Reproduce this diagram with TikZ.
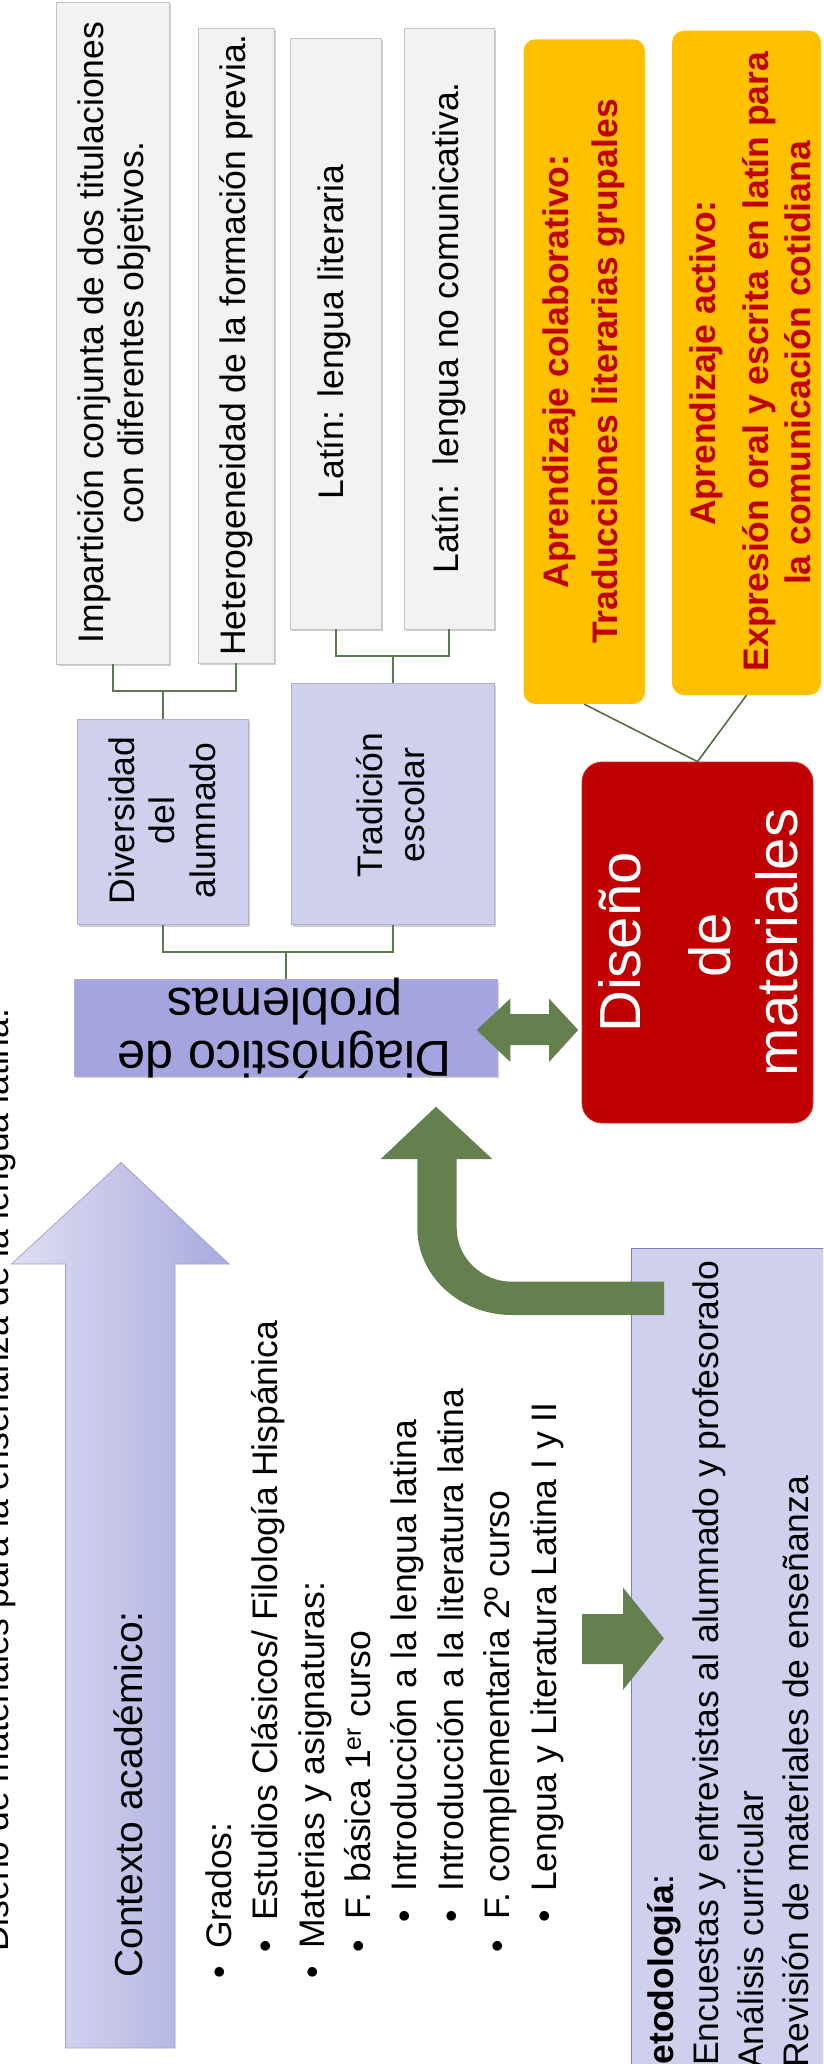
\documentclass[tikz,border=0pt]{standalone}
\usepackage{fontspec}
\setmainfont{Liberation Sans}
\usetikzlibrary{shadows}
\definecolor{grayfill}{HTML}{F2F2F2}
\definecolor{grayline}{HTML}{C3C3C3}
\definecolor{lavfill}{HTML}{CFD0EE}
\definecolor{lavline}{HTML}{AEB0D8}
\definecolor{diagfill}{HTML}{A4A5DF}
\definecolor{garrow}{HTML}{65804F}
\definecolor{gline}{HTML}{5D7A4B}
\definecolor{yel}{HTML}{FFC000}
\definecolor{dred}{HTML}{C00000}
\definecolor{metline}{HTML}{7C7DBF}
\definecolor{ctxL}{HTML}{DEDEF2}
\definecolor{ctxR}{HTML}{A9AADE}
\definecolor{ctxline}{HTML}{A3A3C6}
\newcommand{\fbody}{\fontsize{35.5}{40.5}\selectfont}
\newcommand{\fctx}{\fontsize{39}{45}\selectfont}
\newcommand{\fdiag}{\fontsize{50.5}{54}\selectfont}
\newcommand{\fdis}{\fontsize{58}{67}\selectfont}
\begin{document}
\begin{tikzpicture}[x=1pt,y=1pt,
  shad/.style={drop shadow={shadow xshift=2pt,shadow yshift=-2pt,opacity=0.3,fill=black!60}},
  graybox/.style={draw=grayline, fill=grayfill, line width=0.8pt, inner sep=0pt, shad},
  lavbox/.style={draw=lavline, fill=lavfill, line width=0.8pt, inner sep=0pt, shad},
  diagbox/.style={draw=lavline, fill=diagfill, line width=0.8pt, inner sep=0pt, shad},
  disbox/.style={fill=dred, draw=dred!80!white, line width=0.8pt, rounded corners=20pt, inner sep=0pt},
  yelbox/.style={fill=yel, rounded corners=12pt, inner sep=0pt},
  metbox/.style={fill=lavfill, draw=metline, line width=1pt, inner sep=0pt},
  txt/.style={font=\fbody, inner sep=0pt, text=black},
  r90/.style={rotate=90},
  ytxt/.style={font=\fbody\bfseries, inner sep=0pt, text=dred, rotate=90, anchor=base},
  conn/.style={draw=gline, line width=2pt},
  yline/.style={draw=gline!90!black, line width=1.6pt},
  blockarrow/.style={fill=garrow, draw=none}
]
\useasboundingbox (0,0) rectangle (823,-2064);
\clip (0,0) rectangle (823,-2064);
\fill[white] (0,0) rectangle (823,-2064);

% title (mostly cut off at the left edge)
\node[txt, r90, anchor=base west] (title) at (9,-1952) {Diseño de materiales para la enseñanza de la lengua latina.};

% boxes
\node[graybox, minimum width=113pt, minimum height=662pt] (imp) at (112.5,-333) {};
\node[graybox, minimum width=76pt, minimum height=635pt] (het) at (236,-345.5) {};
\node[graybox, minimum width=91pt, minimum height=591pt] (lit) at (335.5,-333.5) {};
\node[graybox, minimum width=90pt, minimum height=601pt] (noc) at (449,-328.5) {};
\node[lavbox, minimum width=171pt, minimum height=205.5pt] (div) at (162.5,-821.75) {};
\node[lavbox, minimum width=203pt, minimum height=241pt] (trad) at (392.5,-804) {};
\node[diagbox, minimum width=423pt, minimum height=96.5pt] (diag) at (285.5,-1028) {};
\node[disbox, minimum width=231pt, minimum height=361pt] (dis) at (697.5,-942.5) {};
\node[yelbox, minimum width=121.5pt, minimum height=664.7pt] (y1) at (584.25,-371.6) {};
\node[yelbox, minimum width=149pt, minimum height=664.3pt] (y2) at (746.5,-362.85) {};
\node[metbox, minimum width=210pt, minimum height=840pt] (met) at (736.5,-1668) {};

% box texts
\node[txt, r90, align=center] (impt) at (114,-332.5) {Impartición conjunta de dos titulaciones\\con diferentes objetivos.};
\node[txt, r90] (hett) at (236,-345) {Heterogeneidad de la formación previa.};
\node[txt, r90] (litt) at (334.5,-332) {Latín: lengua literaria};
\node[txt, r90] (noct) at (449,-328) {Latín:\ \ lengua no comunicativa.};
\node[txt, r90, align=center] (divt) at (162,-820.5) {Diversidad\\del\\alumnado};
\node[txt, r90, align=center, font=\fontsize{35.5}{42}\selectfont] (tradt) at (391,-805) {Tradición\\escolar};
\node[txt, font=\fdiag, rotate=180, anchor=base] (diag1) at (284.7,-1041.6) {Diagnóstico de};
\node[txt, font=\fdiag, rotate=180, anchor=base] (diag2) at (284.6,-988) {problemas};
\node[txt, font=\fdis, text=white, r90, anchor=base] (dis1) at (640,-942.5) {Diseño};
\node[txt, font=\fdis, text=white, r90, anchor=base] (dis2) at (730,-945) {de};
\node[txt, font=\fdis, text=white, r90, anchor=base] (dis3) at (797,-942.5) {materiales};
\node[ytxt] (y1a) at (568,-371.5) {Aprendizaje colaborativo:};
\node[ytxt] (y1b) at (617,-371.5) {Traducciones literarias grupales};
\node[ytxt] (y2a) at (715,-363) {Aprendizaje activo:};
\node[ytxt] (y2b) at (768,-361.5) {Expresión oral y escrita en latín para};
\node[ytxt] (y2c) at (810,-363) {la comunicación cotidiana};

% connectors
\coordinate (j1) at (162.5,-691);
\draw[conn] (imp.south) |- (j1) -| (het.south);
\draw[conn] (j1) -- (div.north);
\coordinate (j2) at (392.5,-656);
\draw[conn] (lit.south) |- (j2) -| (noc.south);
\draw[conn] (j2) -- (trad.north);
\coordinate (j3) at (285.5,-952);
\draw[conn] (div.south) |- (j3) -| (trad.south);
\draw[conn] (j3) -- (diag.north);
\draw[yline] (y1.south) -- (dis.north);
\draw[yline] (y2.south) -- (dis.north);

% double arrow between diagnosis and design
\path[blockarrow] (476.7,-1030) -- (510.4,-998.5) -- (510.4,-1014) -- (549,-1014) -- (549,-998.5)
  -- (578.2,-1030) -- (549,-1062) -- (549,-1045) -- (510.4,-1045) -- (510.4,-1062) -- cycle;

% U-turn arrow from methodology up to diagnosis
\path[blockarrow] (436,-1106.7) -- (492.3,-1159) -- (456.7,-1159) -- (456.7,-1228)
  arc[start angle=180, end angle=270, x radius=55.3, y radius=53.7]
  -- (664,-1281.7) -- (664,-1315) -- (512,-1315)
  arc[start angle=270, end angle=180, x radius=94.7, y radius=87]
  -- (417.3,-1159) -- (380.7,-1159) -- cycle;

% context arrow
\path[left color=ctxL, right color=ctxR, draw=ctxline, line width=0.8pt]
  (121,-1162.5) -- (229,-1264) -- (175,-1264) -- (175,-2048) -- (65.6,-2048) -- (65.6,-1264) -- (11.5,-1264) -- cycle;
\node[txt, font=\fctx, r90, anchor=base] (ctx) at (142,-1794.5) {Contexto académico:};

% small arrow context -> methodology
\path[blockarrow] (582,-1614) -- (623,-1614) -- (623,-1587.5) -- (664,-1638.5) -- (623,-1690) -- (623,-1664) -- (582,-1664) -- cycle;

% bullet list
\node[txt, r90, anchor=base west] (bu1) at (231,-1978.7) {•};
\node[txt, r90, anchor=base west] (l1) at (231,-1949) {Grados:};
\node[txt, r90, anchor=base west] (bu2) at (277.5,-1952.2) {•};
\node[txt, r90, anchor=base west] (l2) at (277.5,-1921) {Estudios Clásicos/ Filología Hispánica};
\node[txt, r90, anchor=base west] (bu3) at (324,-1978.7) {•};
\node[txt, r90, anchor=base west] (l3) at (324,-1949) {Materias y asignaturas:};
\node[txt, r90, anchor=base west] (bu4) at (370,-1952.2) {•};
\node[txt, r90, anchor=base west] (l4) at (370,-1920) {F. básica 1\textsuperscript{er} curso};
\node[txt, r90, anchor=base west] (bu5) at (416.5,-1922.2) {•};
\node[txt, r90, anchor=base west] (l5) at (416.5,-1892) {Introducción a la lengua latina};
\node[txt, r90, anchor=base west] (bu6) at (463,-1922.2) {•};
\node[txt, r90, anchor=base west] (l6) at (463,-1892) {Introducción a la literatura latina};
\node[txt, r90, anchor=base west] (bu7) at (509.5,-1952.2) {•};
\node[txt, r90, anchor=base west] (l7) at (509.5,-1920) {F. complementaria 2º curso};
\node[txt, r90, anchor=base west] (bu8) at (556,-1922.2) {•};
\node[txt, r90, anchor=base west] (l8) at (556,-1892) {Lengua y Literatura Latina I y II};

% methodology text
\node[txt, r90, anchor=base west] (m1) at (673.3,-2094) {\textbf{Metodología}:};
\node[txt, r90, anchor=base west] (m2) at (718.3,-2066) {Encuestas y entrevistas al alumnado y profesorado};
\node[txt, r90, anchor=base west] (m3) at (763.3,-2069) {Análisis curricular};
\node[txt, r90, anchor=base west] (m4) at (808,-2068) {Revisión de materiales de enseñanza};
\end{tikzpicture}
\end{document}
